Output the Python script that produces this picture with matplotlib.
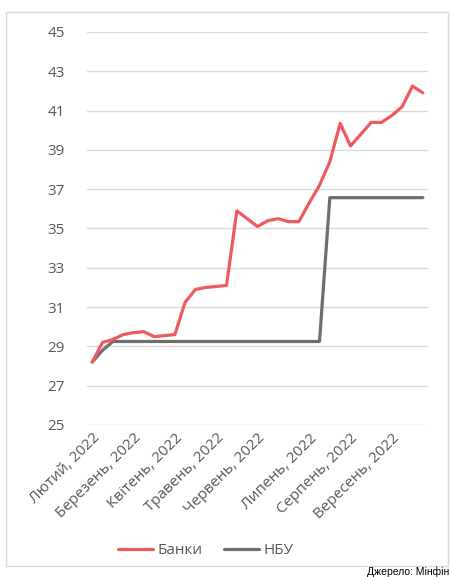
import matplotlib.pyplot as plt
from matplotlib.patches import Rectangle

plt.rcParams['font.family'] = ['Open Sans', 'DejaVu Sans']

# тижневі курси, грн/$
banky = [28.2, 29.2, 29.35, 29.6, 29.7, 29.75, 29.5, 29.55, 29.6, 31.25,
         31.9, 32.0, 32.05, 32.1, 35.9, 35.5, 35.1, 35.4, 35.5, 35.35,
         35.35, 36.3, 37.2, 38.4, 40.35, 39.2, 39.8, 40.4, 40.4, 40.75,
         41.2, 42.25, 41.9]
nbu = [28.2, 28.8] + [29.25] * 21 + [36.57] * 10

month_pos = [0, 4, 8, 12, 16, 21, 25, 29]
month_labels = ['Лютий, 2022', 'Березень, 2022', 'Квітень, 2022', 'Травень, 2022',
                'Червень, 2022', 'Липень, 2022', 'Серпень, 2022', 'Вересень, 2022']
y_ticks = [25, 27, 29, 31, 33, 35, 37, 39, 41, 43, 45]

W, H = 452, 577
fig = plt.figure(figsize=(W / 100, H / 100), dpi=100)
ax = fig.add_axes([87 / W, 1 - 425 / H, (428 - 87) / W, (425 - 32) / H])

x = range(len(banky))
ax.plot(x, banky, color='#EE5A5E', lw=2.3, solid_capstyle='round', label='Банки', zorder=3)
ax.plot(x, nbu, color='#716D6D', lw=2.3, solid_capstyle='round', label='НБУ', zorder=2)

ax.set_xlim(-0.5, len(banky) - 0.5)
ax.set_ylim(25, 45)
ax.set_yticks(y_ticks)
ax.set_xticks(month_pos)
ax.set_xticklabels(month_labels, rotation=45, ha='right', rotation_mode='anchor')
ax.grid(axis='y', color='#D9D9D9', lw=1.0)
ax.set_axisbelow(True)
for s in ax.spines.values():
    s.set_visible(False)
ax.tick_params(axis='both', length=0, labelsize=11, labelcolor='#595959')
ax.tick_params(axis='y', pad=16)
ax.tick_params(axis='x', pad=4)

leg = fig.legend(loc='center', bbox_to_anchor=(206 / W, 1 - 551 / H), ncol=2,
                 frameon=False, fontsize=11, handlelength=2.3, columnspacing=1.4,
                 handletextpad=0.3)
for t in leg.get_texts():
    t.set_color('#595959')

# рамка навколо графіка
fig.patches.append(Rectangle((6 / W, 1 - 566 / H), (448 - 6) / W, (566 - 12) / H,
                             transform=fig.transFigure, fill=False,
                             edgecolor='#D9D9D9', lw=1.0))

fig.text(449 / W, 1 - 572 / H, 'Джерело: Мінфін', fontsize=7.5, color='black',
         family=['Liberation Sans Narrow', 'Liberation Sans'], ha='right', va='center')

fig.savefig('out.png', dpi=100)
